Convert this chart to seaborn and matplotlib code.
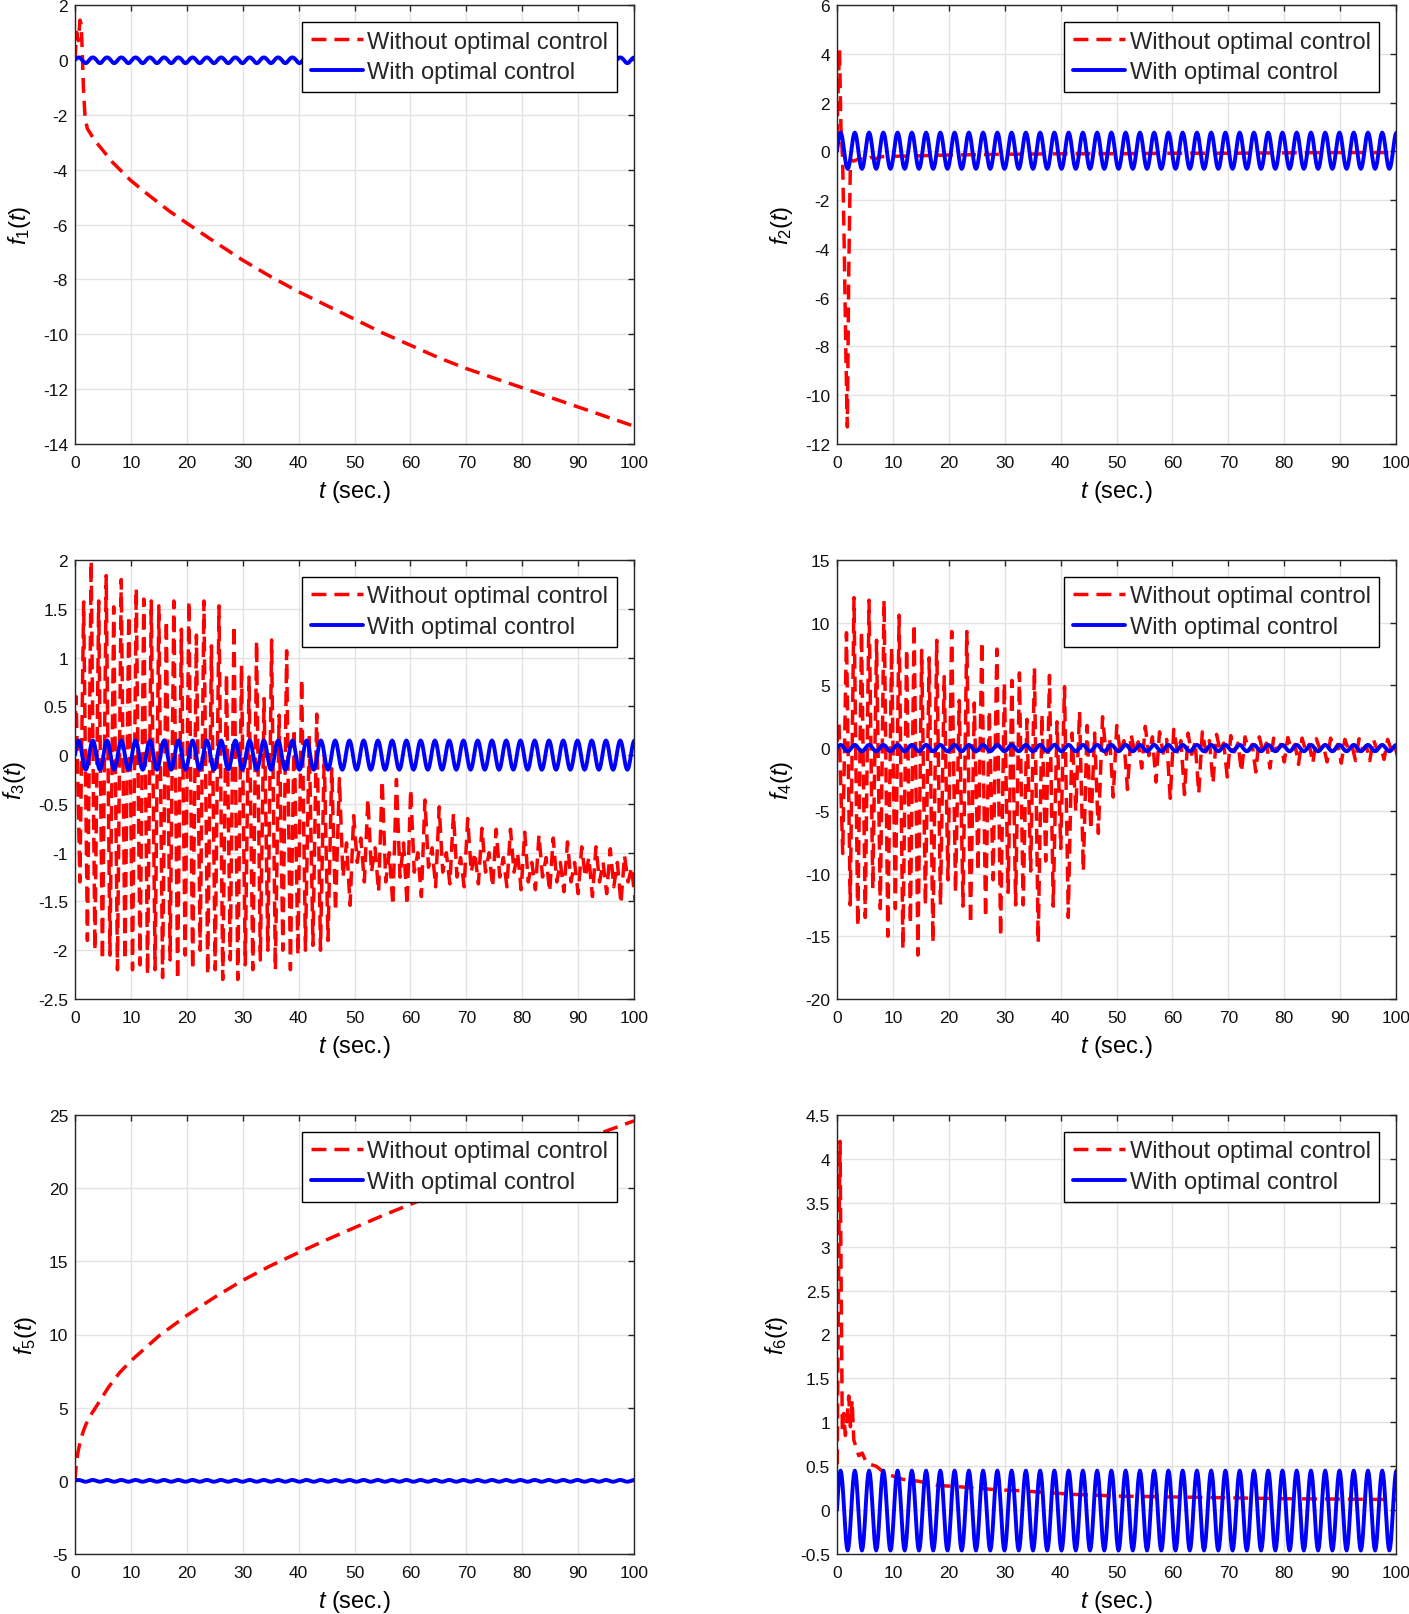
import numpy as np
import matplotlib
matplotlib.use("Agg")
import matplotlib.pyplot as plt
import seaborn as sns

# ---------------- data ----------------
T_END = 100
# Common periodic response "with optimal control": one period, normalised shape
blue_period = 2.55
blue_cycle = [0.0, 0.38, 0.71, 0.92, 1.0, 0.92, 0.71, 0.38,
              0.0, -0.38, -0.71, -0.92, -1.0, -0.92, -0.71, -0.38]
# peak / trough of the blue curve in each panel
blue_hi = [0.09, 0.77, 0.15, 0.26, 0.06, 0.45]
blue_lo = [-0.12, -0.72, -0.15, -0.25, -0.06, -0.46]

# f1 without control
f1_t = [0, 0.3, 0.6, 0.9, 1.1, 1.3, 1.5, 1.8, 2.2, 3.4, 4.6, 6.7, 10, 13, 16.8, 20, 24,
        30, 35, 40, 45, 50, 55, 60, 65, 70, 75, 80, 85, 90, 95, 100]
f1_y = [0, 1.0, 0.7, 1.45, 1.3, 0.3, -1.0, -2.1, -2.5, -2.9, -3.2, -3.73, -4.4, -4.9,
        -5.5, -5.95, -6.5, -7.3, -7.9, -8.45, -8.95, -9.45, -9.95, -10.4, -10.85, -11.25,
        -11.6, -11.95, -12.3, -12.65, -13.0, -13.35]

# f2 without control
f2_t = [0, 0.2, 0.45, 0.7, 1.0, 1.3, 1.6, 1.85, 2.1, 2.4, 3, 4, 5, 6, 7, 8, 10, 12, 15,
        20, 30, 40, 50, 60, 70, 80, 90, 100]
f2_y = [0.5, 2.5, 4.2, 1.0, -0.3, -4.0, -8.5, -11.3, -5.0, -0.35, -0.4, -0.3, -0.35,
        -0.25, -0.3, -0.22, -0.2, -0.2, -0.18, -0.15, -0.12, -0.1, -0.1, -0.08, -0.08,
        -0.06, -0.05, -0.05]

# f3 without control: fast phase (one top + one bottom every half step)
f3A_start, f3A_step = 0.2, 0.6725
f3A_top = [0.6, 1.57, 1.99, 1.58, 1.84, 1.52, 1.8, 1.43, 1.71, 1.6, 1.58, 1.53, 1.38,
           1.58, 1.29, 1.58, 1.23, 1.58, 1.12, 1.53, 0.83, 1.33, 0.92, 0.8, 1.17, 0.58,
           1.18, 0.41, 1.07, 0.27, 0.78, 0.2, 0.42, 0.0, -0.14]
f3A_bot = [-1.3, -1.9, -2.0, -2.1, -2.05, -2.2, -2.1, -2.2, -2.15, -2.25, -2.2, -2.28,
           -2.1, -2.3, -2.05, -2.2, -2.0, -2.25, -2.2, -2.3, -2.1, -2.3, -2.15, -2.2,
           -2.1, -2.0, -2.2, -2.0, -2.2, -2.05, -2.0, -1.95, -2.0, -1.9, -1.6]
# f3 slow phase: per cycle top, dip, bump, bottom
f3B_start, f3B_step = 47.3, 0.6375
f3B_top = [-0.24, -0.62, -0.45, -0.26, -0.25, -0.35, -0.46, -0.53, -0.6, -0.65, -0.75,
           -0.76, -0.76, -0.79, -0.82, -0.85, -0.89, -0.94, -0.94, -0.96, -1.03]
f3B_m1 = [-1.25, -1.1, -1.2, -1.3, -1.25, -1.2, -1.15, -1.2, -1.25, -1.2, -1.2, -1.25,
          -1.2, -1.3, -1.25, -1.3, -1.3, -1.25, -1.3, -1.35, -1.3]
f3B_m2 = [-0.9, -0.85, -0.95, -1.0, -0.9, -1.0, -0.95, -1.0, -1.05, -1.0, -1.0, -1.05,
          -1.0, -1.1, -1.05, -1.1, -1.1, -1.05, -1.1, -1.1, -1.15]
f3B_bot = [-1.54, -1.3, -1.4, -1.54, -1.54, -1.45, -1.35, -1.32, -1.35, -1.32, -1.35,
           -1.35, -1.38, -1.38, -1.4, -1.4, -1.42, -1.45, -1.42, -1.52, -1.5]

# f4 without control
f4A_start, f4A_step = 0.35, 0.6725
f4A_top = [2.1, 9.2, 12.0, 9.3, 11.8, 8.6, 11.8, 8.0, 10.6, 7.9, 9.9, 7.8, 7.2, 8.6, 5.7,
           9.3, 3.8, 9.3, 3.6, 8.5, 3.0, 7.9, 5.2, 5.4, 6.0, 2.3, 6.4, 2.7, 5.8, 2.1, 4.9,
           1.2, 2.9, 1.8, 1.2]
f4A_bot = [-8.4, -12.5, -14.2, -13.5, -11.2, -12.8, -15.0, -12.8, -16.0, -14.0, -16.5,
           -12.5, -15.5, -12.5, -10.5, -11.5, -12.6, -14.0, -9.8, -13.5, -10.5, -15.0,
           -11.5, -12.5, -12.5, -9.8, -15.5, -9.0, -12.6, -8.0, -13.5, -5.0, -9.8, -6.5,
           -6.8]
f4B_start, f4B_step = 47.5, 0.6375
f4B_top = [2.5, 1.8, 1.1, 1.74, 1.3, 1.5, 1.2, 1.3, 1.1, 1.0, 0.9, 0.9, 0.8, 0.85, 0.8,
           0.75, 0.8, 0.7, 0.75, 0.7, 0.7]
f4B_m1 = [-0.5, -0.4, -0.3, -0.6, -0.4, -0.3, -0.5, -0.3, -0.2, -0.3, -0.2, -0.3, -0.2,
          -0.1, -0.2, -0.1, -0.2, -0.1, -0.1, -0.1, -0.1]
f4B_m2 = [0.8, 0.6, 0.5, 0.9, 0.7, 0.6, 0.5, 0.6, 0.4, 0.4, 0.3, 0.4, 0.3, 0.3, 0.3, 0.2,
          0.3, 0.2, 0.2, 0.2, 0.2]
f4B_bot = [-3.9, -3.3, -1.6, -2.7, -4.0, -3.7, -3.6, -2.8, -2.3, -1.9, -1.9, -1.6, -1.1,
           -1.3, -1.2, -1.1, -1.2, -1.0, -1.0, -0.9, -0.9]

# f5 without control
f5_t = [0, 0.2, 0.5, 1, 1.5, 2, 3, 4, 5, 6, 7, 8, 10, 15, 20, 25, 30, 35, 40, 45, 50,
        55, 60, 65, 70, 75, 80, 85, 90, 95, 100]
f5_y = [0, 1.0, 1.9, 2.8, 3.4, 3.9, 4.6, 5.2, 5.8, 6.4, 6.9, 7.4, 8.2, 9.9, 11.3, 12.55,
        13.7, 14.7, 15.6, 16.47, 17.3, 18.12, 18.9, 19.67, 20.4, 21.1, 21.8, 22.5, 23.2,
        23.9, 24.6]

# f6 without control
f6_t = [0, 0.15, 0.35, 0.55, 0.75, 0.95, 1.2, 1.5, 1.8, 2.1, 2.4, 2.7, 3.0, 3.4, 3.9, 4.5,
        5.2, 6, 7, 8, 9.4, 11.8, 14.5, 18, 21, 25, 29, 33, 42, 50, 60, 70, 80, 90, 100]
f6_y = [0.0, 1.5, 3.2, 4.2, 2.5, 0.9, 1.1, 0.85, 1.05, 1.3, 0.95, 1.25, 0.8, 0.72, 0.62,
        0.65, 0.55, 0.52, 0.5, 0.45, 0.4, 0.35, 0.33, 0.28, 0.27, 0.25, 0.23, 0.22, 0.18,
        0.16, 0.15, 0.14, 0.13, 0.125, 0.12]

ylims = [(-14, 2), (-12, 6), (-2.5, 2), (-20, 15), (-5, 25), (-0.5, 4.5)]
ysteps = [2, 2, 0.5, 5, 5, 0.5]
labels = ["Without optimal control", "With optimal control"]


# ---------------- helpers assembling the read values ----------------
def blue_series(hi, lo):
    shape = np.array(blue_cycle)
    n_cyc = int(np.ceil(T_END / blue_period)) + 1
    v = np.tile(shape, n_cyc)
    v = np.where(v > 0, v * hi, v * abs(lo))
    t = np.arange(v.size) * blue_period / len(shape)
    keep = t <= T_END + 0.3
    return t[keep], v[keep]


def two_phase(t_first, y_first, a_start, a_step, a_top, a_bot,
              b_start, b_step, b_top, b_m1, b_m2, b_bot):
    ya = np.column_stack([a_top, a_bot]).ravel()
    ta = a_start + a_step * np.arange(ya.size)
    yb = np.column_stack([b_top, b_m1, b_m2, b_bot]).ravel()
    tb = b_start + b_step * np.arange(yb.size)
    t = np.concatenate([[t_first], ta, tb])
    y = np.concatenate([[y_first], ya, yb])
    return t, y


f3_t, f3_y = two_phase(0, 0.3, f3A_start, f3A_step, f3A_top, f3A_bot,
                       f3B_start, f3B_step, f3B_top, f3B_m1, f3B_m2, f3B_bot)
f4_t, f4_y = two_phase(0, 0.5, f4A_start, f4A_step, f4A_top, f4A_bot,
                       f4B_start, f4B_step, f4B_top, f4B_m1, f4B_m2, f4B_bot)

red_series = [(f1_t, f1_y), (f2_t, f2_y), (f3_t, f3_y), (f4_t, f4_y),
              (f5_t, f5_y), (f6_t, f6_y)]

# ---------------- styling ----------------
sns.set_theme(style="white")
plt.rcParams["font.family"] = ["Liberation Sans", "DejaVu Sans"]
plt.rcParams["mathtext.fontset"] = "custom"
plt.rcParams["mathtext.rm"] = "Liberation Sans"
plt.rcParams["mathtext.it"] = "Liberation Sans:italic"
plt.rcParams["axes.unicode_minus"] = False

W, H = 1409, 1615
fig = plt.figure(figsize=(W / 100, H / 100), dpi=100)
fig.patch.set_facecolor("white")

col_x = [75, 837]
row_top = [6, 561, 1116]
ax_w, ax_h = 559, 439

for i in range(6):
    r, c = divmod(i, 2)
    left = col_x[c] / W
    bottom = 1 - (row_top[r] + ax_h) / H
    ax = fig.add_axes([left, bottom, ax_w / W, ax_h / H])

    tr, yr = red_series[i]
    sns.lineplot(x=np.asarray(tr, float), y=np.asarray(yr, float), ax=ax,
                 color="#ff0000", linewidth=2.5, estimator=None, sort=False)
    red_line = ax.lines[-1]
    red_line.set_dashes((4.3, 2.3))
    red_line.set_dash_capstyle("butt")

    tb, yb = blue_series(blue_hi[i], blue_lo[i])
    sns.lineplot(x=tb, y=yb, ax=ax, color="#0000ff", linewidth=2.8,
                 estimator=None, sort=False)
    blue_line = ax.lines[-1]

    lo, hi = ylims[i]
    ax.set_xlim(0, T_END)
    ax.set_ylim(lo, hi)
    ax.set_xticks(np.arange(0, 101, 10))
    ax.set_yticks(np.arange(lo, hi + 1e-9, ysteps[i]))
    ax.yaxis.set_major_formatter(matplotlib.ticker.FormatStrFormatter("%g"))
    ax.xaxis.set_major_formatter(matplotlib.ticker.FormatStrFormatter("%g"))

    ax.grid(True, color="#e3e3e3", linewidth=1.0)
    ax.set_axisbelow(True)
    for s in ax.spines.values():
        s.set_color("#262626")
        s.set_linewidth(1.0)
        s.set_visible(True)
    ax.tick_params(direction="in", length=4.5, width=1.0, top=True, right=True,
                   labelsize=12.5, colors="#262626", labelcolor="#111111")
    ax.tick_params(axis="x", pad=8)
    ax.tick_params(axis="y", pad=5)

    ax.set_xlabel(r"$t$ (sec.)", fontsize=17, labelpad=6, color="black")
    ax.set_ylabel(r"$f_{%d}(t)$" % (i + 1), fontsize=17, labelpad=7, color="black")

    leg = ax.legend([red_line, blue_line], labels, loc="upper right",
                    fontsize=17, frameon=True, fancybox=False, framealpha=1,
                    edgecolor="black", borderpad=0.38, labelspacing=0.36,
                    handlelength=2.2, handletextpad=0.2, borderaxespad=0.7)
    leg.get_frame().set_linewidth(1.0)

fig.savefig("out.png", dpi=100, facecolor="white")
